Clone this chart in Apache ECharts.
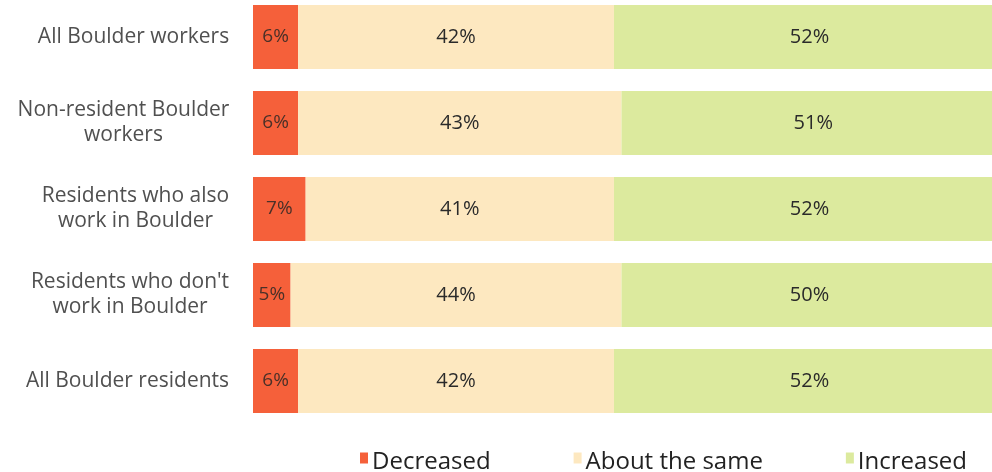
<!DOCTYPE html>
<html>
<head>
<meta charset="utf-8">
<script src="https://cdn.jsdelivr.net/npm/echarts@6/dist/echarts.min.js"></script>
<style>
html,body{margin:0;padding:0;background:#fff;overflow:hidden;}
#chart{width:992px;height:472px;}
</style>
</head>
<body>
<div id="chart"></div>
<script>
const categories = [
  "All Boulder workers",
  "Non-resident Boulder\nworkers",
  "Residents who also\nwork in Boulder",
  "Residents who don't\nwork in Boulder",
  "All Boulder residents"
];
const seriesNames = ["Decreased", "About the same", "Increased"];
const decreased = [6, 6, 7, 5, 6];
const aboutSame = [42, 43, 41, 44, 42];
const increased = [52, 51, 52, 50, 52];
const colors = ["#F5603A", "#FDE8C0", "#DCEA9E"];

const FONT = "Open Sans";
const cv = document.createElement('canvas').getContext('2d');
cv.font = "21px '" + FONT + "'";
const rich = {};
categories.forEach((c, i) => {
  const w = Math.max(...c.split('\n').map(s => cv.measureText(s).width));
  rich['r' + i] = { width: Math.ceil(w) + 1, align: 'center', fontSize: 21, fontFamily: FONT, color: '#505050', lineHeight: 25 };
});

const chart = echarts.init(document.getElementById('chart'));
const dataArr = [decreased, aboutSame, increased];
chart.setOption({
  animation: false,
  grid: { left: 253, width: 752, top: -6, height: 430, outerBoundsMode: 'none', containLabel: false },
  xAxis: { type: 'value', min: 0, max: 100, show: false },
  yAxis: {
    type: 'category', data: categories, inverse: true,
    axisLine: { show: false }, axisTick: { show: false },
    axisLabel: {
      margin: 23,
      formatter: function (v, idx) {
        return v.split('\n').map(s => '{r' + idx + '|' + s + '}').join('\n');
      },
      rich: rich
    }
  },
  legend: {
    left: 355, top: 445, itemGap: 83, itemWidth: 8, itemHeight: 19,
    icon: 'path://M0,0H8V11H0Z M0,19L0,19',
    textStyle: { fontFamily: FONT, fontSize: 24, color: '#222', padding: [0, 0, 0, -1] },
    data: seriesNames
  },
  series: seriesNames.map((n, k) => ({
    name: n, type: 'bar', stack: 'total', barWidth: 64,
    itemStyle: { color: colors[k] },
    label: {
      show: true, position: 'inside', formatter: '{c}%',
      fontFamily: FONT, fontSize: k === 0 ? 19 : 20,
      color: k === 0 ? '#4a3028' : '#2a2a2a'
    },
    data: dataArr[k]
  }))
});
</script>
</body>
</html>
